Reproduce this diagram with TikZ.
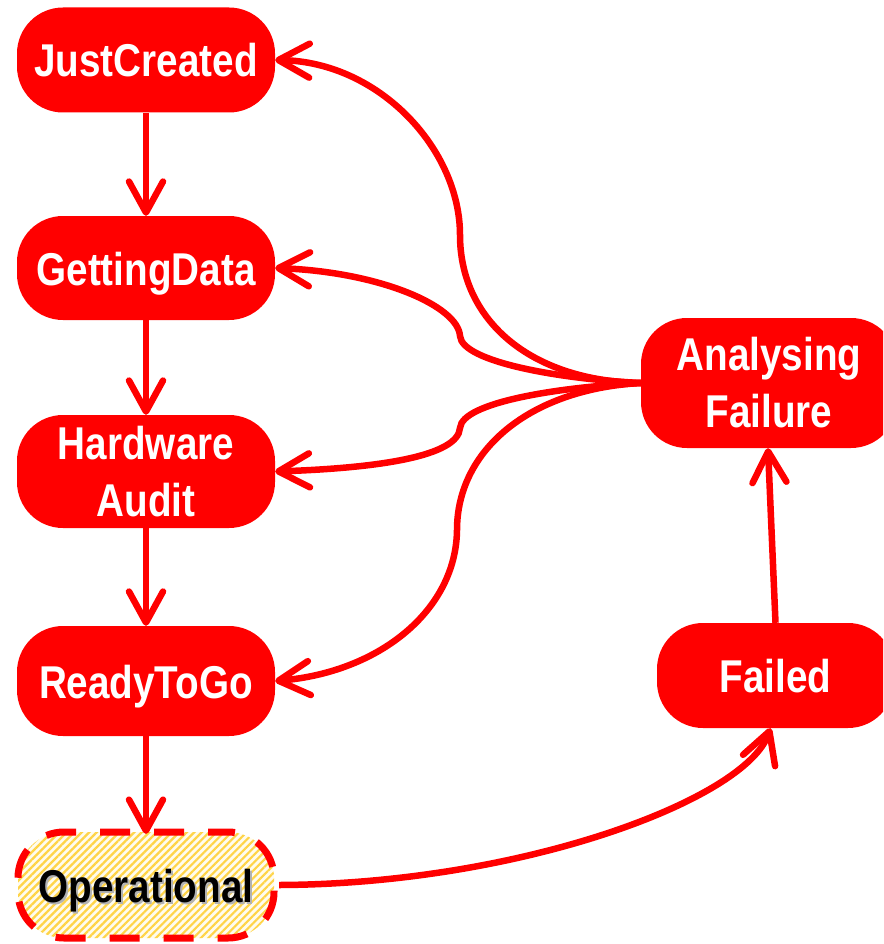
\documentclass[tikz,border=0pt]{standalone}
\usepackage{fontspec}
\newfontfamily\nodefont{Liberation Sans}[FakeStretch=0.84]
\usetikzlibrary{arrows.meta,patterns.meta}
\definecolor{rred}{HTML}{FF0000}
\definecolor{stripe}{HTML}{FFD447}
\definecolor{cream}{HTML}{FFFCEE}
\tikzset{
  state/.style={rectangle, rounded corners=46pt, fill=rred, text=white,
    align=center, inner sep=0pt,
    font=\nodefont\bfseries\fontsize{46}{57}\selectfont},
  oneline/.style={text height=34pt, text depth=0pt},
  arr/.style={draw=rred, line width=6.5pt,
    -{Straight Barb[length=31pt,width=34pt,round]}},
  opstate/.style={rectangle, rounded corners=46pt, draw=rred, line width=7pt,
    dash pattern=on 30pt off 24pt, dash phase=10pt,
    preaction={fill=cream},
    pattern={Lines[angle=45,distance=5.3pt,line width=2.2pt]},
    pattern color=stripe, text=black, align=center, inner sep=0pt,
    font=\nodefont\bfseries\fontsize{46}{57}\selectfont}
}
\newcommand{\shadowtext}[1]{\makebox[0pt][l]{\hspace{2pt}\raisebox{-2pt}{\textcolor{black!30}{#1}}}#1}
\begin{document}
\begin{tikzpicture}[x=1pt,y=-1pt]
\useasboundingbox (0,0) rectangle (883,944);
\clip (0,0) rectangle (883,944);

\node[state, oneline, minimum width=258pt, minimum height=105pt] (jc) at (146,60) {JustCreated};
\node[state, oneline, minimum width=258pt, minimum height=104pt] (gd) at (146,268) {GettingData};
\node[state, minimum width=258pt, minimum height=113pt] (ha) at (146,471.5) {Hardware\\Audit};
\node[state, oneline, minimum width=258pt, minimum height=110pt] (rg) at (146,681) {ReadyToGo};
\node[opstate, oneline, minimum width=256pt, minimum height=106pt] (op) at (146,885) {\shadowtext{Operational}};
\node[state, minimum width=256pt, minimum height=130pt] (af) at (769,383) {Analysing\\Failure};
\node[state, oneline, minimum width=237pt, minimum height=105pt] (fa) at (775.5,675.5) {Failed};

% vertical chain
\draw[arr] (jc.south) -- (gd.north);
\draw[arr] (gd.south) -- (ha.north);
\draw[arr] (ha.south) -- (rg.north);
\draw[arr] (rg.south) -- ([yshift=-3pt]op.north);

% failure path
\draw[arr] ([xshift=4pt]op.east) .. controls (520,884) and (745,800) .. ([xshift=-5pt]fa.south);
\draw[arr] (fa.north) -- ([xshift=-1pt]af.south);

% recovery fan
\draw[arr] (af.west) .. controls (530,381) and (460,320) .. (460,235)
  .. controls (460,150) and (380,62) .. (jc.east);
\draw[arr] (af.west) .. controls (560,379) and (462,362) .. (460,336)
  .. controls (458,306) and (380,272) .. (gd.east);
\draw[arr] (af.west) .. controls (560,387) and (462,402) .. (460,428)
  .. controls (458,456) and (380,468) .. (ha.east);
\draw[arr] (af.west) .. controls (530,389) and (457,450) .. (457,530)
  .. controls (456,610) and (380,672) .. (rg.east);
\end{tikzpicture}
\end{document}
